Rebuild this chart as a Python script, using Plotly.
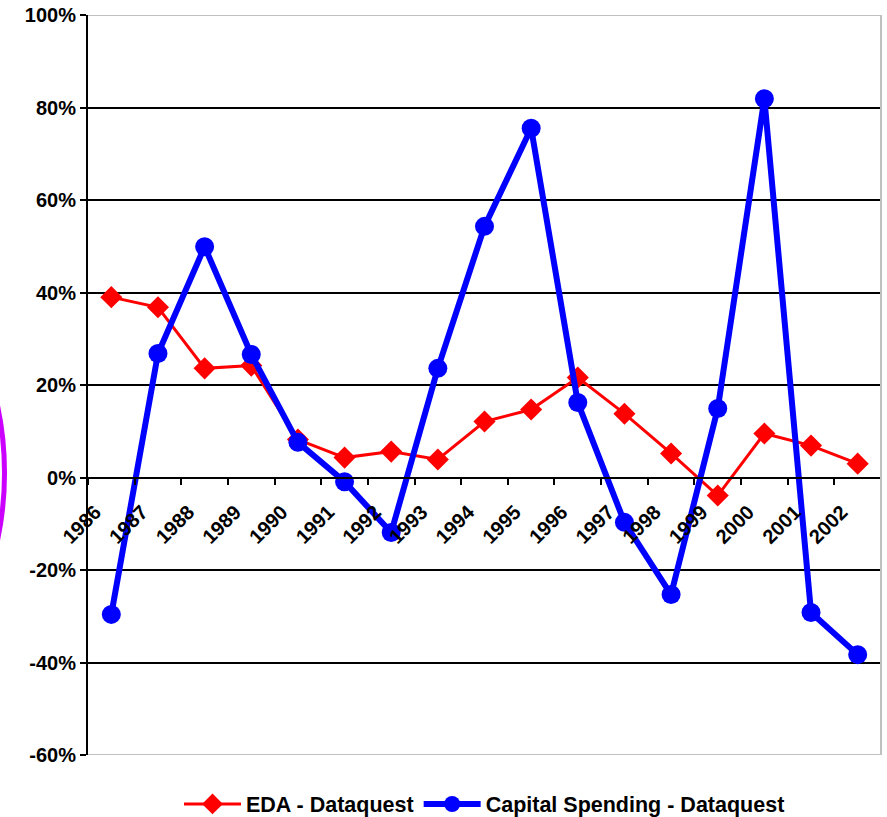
import plotly.graph_objects as go

years = [str(y) for y in range(1986, 2003)]
eda = [39.0, 36.8, 23.6, 24.2, 8.2, 4.3, 5.6, 3.9, 12.1, 14.7, 21.6, 13.8, 5.2, -3.9, 9.5, 6.9, 3.0]
capital = [-29.6, 26.8, 49.9, 26.6, 7.6, -0.9, -11.9, 23.6, 54.3, 75.5, 16.2, -9.7, -25.3, 14.9, 81.9, -29.2, -38.3]
y_ticks = [-60, -40, -20, 0, 20, 40, 60, 80, 100]
y_labels = [f"{v}%" for v in y_ticks]

FONT = "Liberation Sans, Arial, sans-serif"

fig = go.Figure()
fig.add_trace(go.Scatter(
    x=years, y=eda, mode="lines+markers", name="EDA - Dataquest",
    line=dict(color="#ff0000", width=3),
    marker=dict(symbol="diamond", size=17, color="#ff0000"),
))
fig.add_trace(go.Scatter(
    x=years, y=capital, mode="lines+markers", name="Capital Spending - Dataquest",
    line=dict(color="#0000ff", width=6),
    marker=dict(symbol="circle", size=19, color="#0000ff"),
))

ymin, ymax = -60, 100
L, R, T, B = 88, 6, 15, 62
PW = 887 - L - R
PH = 817 - T - B
fig.update_layout(
    width=887, height=817,
    margin=dict(l=L, r=R, t=T, b=B, autoexpand=False),
    paper_bgcolor="white", plot_bgcolor="white",
    font=dict(family=FONT, size=20, color="black"),
    showlegend=True,
    legend=dict(orientation="h", x=0.5, xanchor="center", y=-(804 - 755) / PH, yanchor="middle",
                font=dict(family=FONT, size=21.5, color="black", weight="bold"),
                itemwidth=57, tracegroupgap=0),
    xaxis=dict(
        type="category", range=[-0.5, 16.5], automargin=False,
        anchor="free", position=(0 - ymin) / (ymax - ymin),
        showline=True, linecolor="black", linewidth=2,
        ticks="outside", tickson="boundaries", ticklen=6, tickcolor="black", tickwidth=2,
        tickangle=-45, showgrid=False, zeroline=False,
        tickfont=dict(family=FONT, size=20, color="black", weight="bold"),
        ticklabelshift=-16, ticklabelstandoff=14,
    ),
    yaxis=dict(
        range=[ymin, ymax], tickvals=y_ticks, ticktext=y_labels, automargin=False,
        showline=True, linecolor="black", linewidth=2,
        ticks="outside", ticklen=6, tickcolor="black", tickwidth=2,
        showgrid=True, gridcolor="black", gridwidth=1.5, zeroline=False,
        tickfont=dict(family=FONT, size=20, color="black", weight="bold"),
    ),
    shapes=[
        dict(type="line", xref="paper", yref="y", x0=0, x1=1, y0=ymax, y1=ymax,
             line=dict(color="#c0c0c0", width=2), layer="above"),
        dict(type="line", xref="paper", yref="y", x0=0, x1=1, y0=ymin, y1=ymin,
             line=dict(color="#c0c0c0", width=2), layer="above"),
        dict(type="line", xref="paper", yref="paper", x0=1, x1=1, y0=0, y1=1,
             line=dict(color="#c0c0c0", width=2), layer="above"),
        dict(type="circle", xref="paper", yref="paper",
             x0=(-235 - L) / PW, x1=(4.5 - L) / PW,
             y0=(817 - B - 673) / PH, y1=(817 - B - 273) / PH,
             line=dict(color="#cc00ff", width=5), layer="above"),
    ],
)

fig.write_html(
    "out.html",
    config={"displayModeBar": False},
    post_script="document.body.style.margin='0px';document.body.style.overflow='hidden';",
)
